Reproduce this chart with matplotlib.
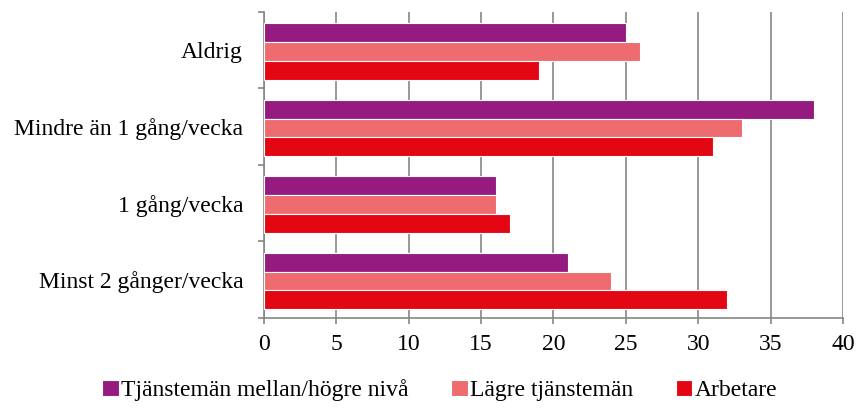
import numpy as np
import matplotlib.pyplot as plt

kategorier = ['Aldrig', 'Mindre än 1 gång/vecka', '1 gång/vecka', 'Minst 2 gånger/vecka']
serier = ['Tjänstemän mellan/högre nivå', 'Lägre tjänstemän', 'Arbetare']
tjm_hogre = [25, 38, 16, 21]
lagre_tjm = [26, 33, 16, 24]
arbetare = [19, 31, 17, 32]
farger = ['#951B80', '#EE6B70', '#E30613']

plt.rcParams['font.family'] = ['Liberation Serif', 'DejaVu Serif']

fig = plt.figure(figsize=(8.59, 4.08), dpi=100)
ax = fig.add_axes([0.3073, 0.2206, 0.6741, 0.75])

n = len(kategorier)
y = np.arange(n)[::-1].astype(float)
h = 0.245
for k, (vals, col, namn) in enumerate(zip([tjm_hogre, lagre_tjm, arbetare], farger, serier)):
    ax.barh(y + (1 - k) * h - 0.015, vals, height=h, color=col, edgecolor='white',
            linewidth=0.8, label=namn, zorder=3)

ax.set_xlim(0, 40)
ax.set_ylim(-0.5, n - 0.5)
ax.set_xticks(range(0, 41, 5))
ax.set_yticks(y)
ax.set_yticklabels(kategorier)
ax.set_yticks(np.arange(-0.5, n, 1), minor=True)
ax.tick_params(axis='y', which='major', length=0, pad=15, labelsize=17)
ax.tick_params(axis='y', which='minor', length=4, color='#868686', width=1.2)
ax.tick_params(axis='x', length=4.5, color='#868686', width=1.2, labelsize=17, pad=7)

ax.grid(axis='x', color='#868686', linewidth=1.2, zorder=0)
for s in ['top', 'right']:
    ax.spines[s].set_visible(False)
for s in ['left', 'bottom']:
    ax.spines[s].set_color('#868686')
    ax.spines[s].set_linewidth(1.2)

fig.legend(loc='lower center', bbox_to_anchor=(0.512, -0.035), ncol=3, frameon=False,
           fontsize=17, handlelength=0.7, handleheight=0.7, handletextpad=0.1,
           columnspacing=1.8)

fig.savefig('out.png', dpi=100)
